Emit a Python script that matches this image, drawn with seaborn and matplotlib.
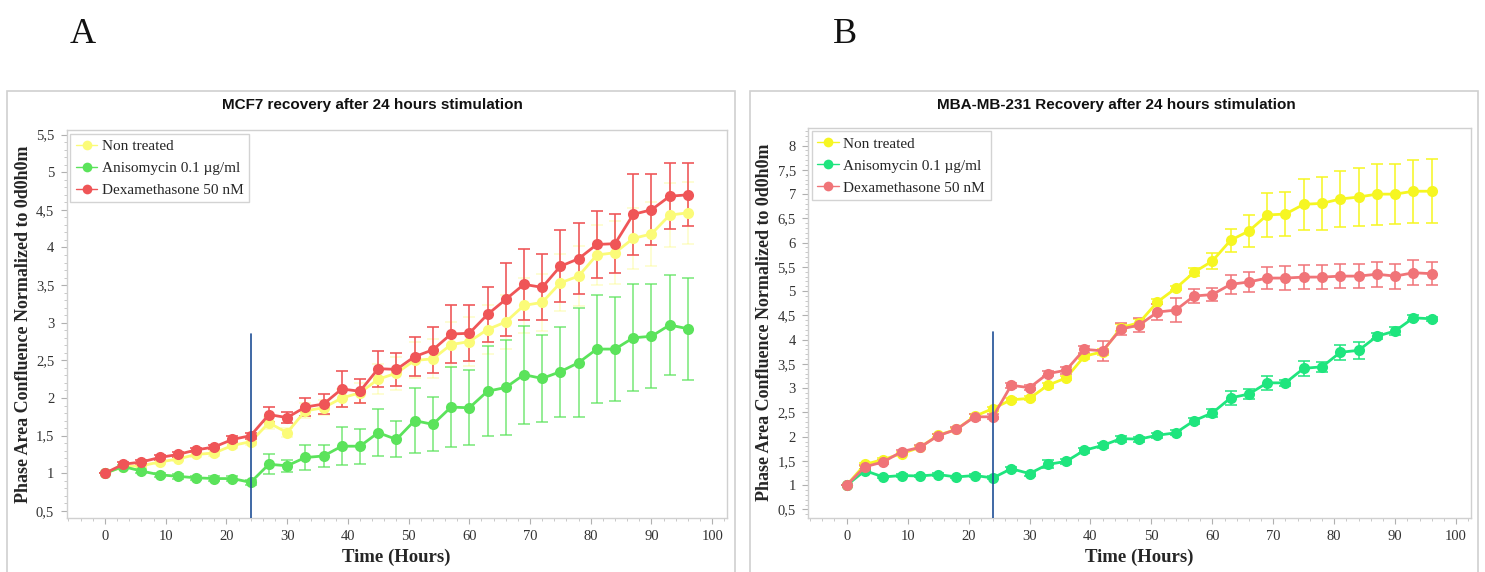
import numpy as np
import pandas as pd
import seaborn as sns
import matplotlib.pyplot as plt
from matplotlib.ticker import MultipleLocator, FuncFormatter
from matplotlib.patches import Rectangle

## Data (time in hours, confluence normalized to t=0)
hours = list(range(0, 97, 3))
groups = ['Non treated', 'Anisomycin 0.1 \u00b5g/ml', 'Dexamethasone 50 nM']

# Panel A - MCF7
mcf7_non = [1.00, 1.09, 1.10, 1.15, 1.19, 1.25, 1.27, 1.37, 1.42, 1.67, 1.54, 1.83, 1.87,
            2.00, 2.07, 2.25, 2.33, 2.50, 2.52, 2.71, 2.75, 2.91, 3.01, 3.23, 3.27, 3.53,
            3.62, 3.90, 3.93, 4.12, 4.18, 4.43, 4.46]
mcf7_non_err = [0.00, 0.02, 0.03, 0.03, 0.03, 0.04, 0.04, 0.04, 0.05, 0.08, 0.06, 0.10, 0.10,
                0.12, 0.13, 0.20, 0.22, 0.24, 0.26, 0.30, 0.32, 0.33, 0.36, 0.37, 0.38, 0.38,
                0.40, 0.40, 0.42, 0.40, 0.42, 0.42, 0.41]
mcf7_ani = [1.00, 1.09, 1.03, 0.98, 0.96, 0.94, 0.93, 0.93, 0.88, 1.12, 1.10, 1.21, 1.23,
            1.36, 1.36, 1.54, 1.45, 1.70, 1.65, 1.88, 1.87, 2.09, 2.14, 2.31, 2.26, 2.35,
            2.47, 2.65, 2.65, 2.80, 2.82, 2.97, 2.92]
mcf7_ani_err = [0.00, 0.02, 0.03, 0.03, 0.03, 0.03, 0.03, 0.03, 0.03, 0.13, 0.08, 0.16, 0.15,
                0.25, 0.23, 0.31, 0.24, 0.43, 0.36, 0.53, 0.50, 0.60, 0.63, 0.65, 0.58, 0.60,
                0.72, 0.72, 0.69, 0.71, 0.69, 0.67, 0.68]
mcf7_dex = [1.00, 1.12, 1.15, 1.21, 1.25, 1.31, 1.35, 1.45, 1.50, 1.78, 1.74, 1.88, 1.92,
            2.12, 2.09, 2.39, 2.38, 2.55, 2.64, 2.85, 2.86, 3.11, 3.31, 3.51, 3.47, 3.75,
            3.85, 4.04, 4.05, 4.44, 4.50, 4.68, 4.70]
mcf7_dex_err = [0.00, 0.03, 0.03, 0.03, 0.03, 0.03, 0.03, 0.04, 0.04, 0.10, 0.07, 0.12, 0.13,
                0.24, 0.16, 0.24, 0.22, 0.26, 0.31, 0.38, 0.37, 0.36, 0.48, 0.47, 0.44, 0.48,
                0.47, 0.45, 0.39, 0.54, 0.47, 0.44, 0.42]

# Panel B - MDA-MB-231
mda_non = [1.00, 1.43, 1.53, 1.65, 1.78, 2.03, 2.15, 2.42, 2.58, 2.76, 2.79, 3.06, 3.21,
           3.66, 3.75, 4.25, 4.35, 4.78, 5.06, 5.39, 5.62, 6.05, 6.24, 6.57, 6.59, 6.79,
           6.81, 6.90, 6.94, 7.00, 7.00, 7.06, 7.06]
mda_non_err = [0.00, 0.03, 0.03, 0.03, 0.03, 0.03, 0.03, 0.04, 0.04, 0.04, 0.04, 0.05, 0.05,
               0.05, 0.06, 0.07, 0.08, 0.05, 0.04, 0.08, 0.16, 0.24, 0.32, 0.45, 0.45, 0.53,
               0.55, 0.58, 0.60, 0.63, 0.62, 0.65, 0.66]
mda_ani = [1.00, 1.30, 1.17, 1.20, 1.19, 1.22, 1.17, 1.20, 1.15, 1.34, 1.24, 1.43, 1.49,
           1.72, 1.82, 1.96, 1.95, 2.03, 2.08, 2.33, 2.49, 2.80, 2.88, 3.11, 3.11, 3.41,
           3.44, 3.74, 3.78, 4.07, 4.18, 4.45, 4.43]
mda_ani_err = [0.00, 0.03, 0.03, 0.03, 0.03, 0.03, 0.03, 0.03, 0.03, 0.04, 0.04, 0.08, 0.05,
               0.05, 0.05, 0.06, 0.05, 0.05, 0.05, 0.06, 0.08, 0.15, 0.10, 0.15, 0.06, 0.15,
               0.10, 0.16, 0.17, 0.06, 0.08, 0.05, 0.04]
mda_dex = [1.00, 1.38, 1.48, 1.69, 1.78, 2.02, 2.15, 2.41, 2.41, 3.06, 3.01, 3.30, 3.37,
           3.80, 3.77, 4.22, 4.30, 4.57, 4.61, 4.90, 4.93, 5.14, 5.19, 5.27, 5.27, 5.29,
           5.29, 5.31, 5.31, 5.35, 5.31, 5.38, 5.36]
mda_dex_err = [0.00, 0.04, 0.04, 0.04, 0.04, 0.04, 0.04, 0.06, 0.05, 0.05, 0.05, 0.05, 0.07,
               0.07, 0.20, 0.12, 0.15, 0.17, 0.24, 0.14, 0.13, 0.20, 0.20, 0.23, 0.25, 0.25,
               0.25, 0.25, 0.24, 0.26, 0.26, 0.26, 0.24]

titles = ['MCF7 recovery after 24 hours stimulation',
          'MBA-MB-231 Recovery after 24 hours stimulation']
panel_letters = ['A', 'B']
stim_end = 24

panels = [
    {'means': [mcf7_non, mcf7_ani, mcf7_dex], 'errs': [mcf7_non_err, mcf7_ani_err, mcf7_dex_err],
     'colors': ['#fbfb78', '#5be35b', '#ef5557'], 'err_alpha': [0.35, 0.7, 0.9],
     'ylim': (0.41, 5.56), 'rect': [0.0449, 0.0949, 0.4445, 0.6778],
     'title_x': 0.2508, 'letter_x': 0.047},
    {'means': [mda_non, mda_ani, mda_dex], 'errs': [mda_non_err, mda_ani_err, mda_dex_err],
     'colors': ['#f6f622', '#1fe57e', '#f07478'], 'err_alpha': [0.85, 0.85, 0.85],
     'ylim': (0.33, 8.37), 'rect': [0.5443, 0.0949, 0.4461, 0.6819],
     'title_x': 0.7517, 'letter_x': 0.561},
]

sns.set_theme(style='white')
plt.rcParams['font.family'] = ['Liberation Serif', 'DejaVu Serif']

fig = plt.figure(figsize=(14.85, 5.72), dpi=100)

# light grey frames round each panel
for x0 in [0.005, 0.505]:
    fig.patches.append(Rectangle((x0, -0.1), 0.49, 0.941, transform=fig.transFigure,
                                 fill=False, edgecolor='#d0d0d0', linewidth=1.2))

comma = FuncFormatter(lambda v, p: ('%g' % v).replace('.', ','))

for i, p in enumerate(panels):
    ax = fig.add_axes(p['rect'])
    df = pd.DataFrame({'Time': hours * 3,
                       'Value': p['means'][0] + p['means'][1] + p['means'][2],
                       'Group': [g for g in groups for _ in hours]})
    for g, m, e, c, a in zip(groups, p['means'], p['errs'], p['colors'], p['err_alpha']):
        ax.errorbar(hours, m, yerr=e, fmt='none', ecolor=c, alpha=a, elinewidth=1.3,
                    capsize=4, capthick=1.3, zorder=2)
    sns.lineplot(data=df, x='Time', y='Value', hue='Group', palette=p['colors'],
                 marker='o', markersize=8, markeredgewidth=0, linewidth=2,
                 ax=ax, zorder=3)
    ax.axvline(stim_end, ymin=0, ymax=0.475, color='#1f4f96', linewidth=1.2, zorder=4)

    ax.set_xlim(-6.3, 102.4)
    ax.set_ylim(*p['ylim'])
    ax.xaxis.set_major_locator(MultipleLocator(10))
    ax.xaxis.set_minor_locator(MultipleLocator(2))
    ax.yaxis.set_major_locator(MultipleLocator(0.5))
    ax.yaxis.set_minor_locator(MultipleLocator(0.1))
    ax.yaxis.set_major_formatter(comma)
    ax.tick_params(which='major', direction='out', length=4, width=0.8, colors='#b0b0b0',
                   labelcolor='#333333', labelsize=10.5, bottom=True, left=True, pad=5)
    ax.tick_params(which='minor', direction='out', length=2, width=0.6, colors='#c0c0c0',
                   bottom=True, left=True)
    for s in ax.spines.values():
        s.set_color('#d0d0d0')
        s.set_linewidth(1.0)

    ax.set_xlabel('Time (Hours)', fontsize=13.5, fontweight='bold', labelpad=4)
    ax.set_ylabel('Phase Area Confluence Normalized to 0d0h0m', fontsize=13,
                  fontweight='bold', labelpad=3)
    fig.text(p['title_x'], 0.816, titles[i], family='Liberation Sans', fontsize=11,
             fontweight='bold', ha='center', va='center', color='#111111')

    leg = ax.legend(loc='upper left', fontsize=11, frameon=True, fancybox=False,
                    borderaxespad=0.25, handlelength=1.4, handletextpad=0.3,
                    labelspacing=0.55, borderpad=0.35)
    leg.get_frame().set_edgecolor('#c8c8c8')
    leg.get_frame().set_linewidth(1.0)
    for h in leg.get_lines():
        h.set_linewidth(1.0)
        h.set_markersize(7)

    fig.text(p['letter_x'], 0.94, panel_letters[i], fontsize=26,
             ha='left', va='center', color='#111111')

fig.savefig('out.png', dpi=100)
